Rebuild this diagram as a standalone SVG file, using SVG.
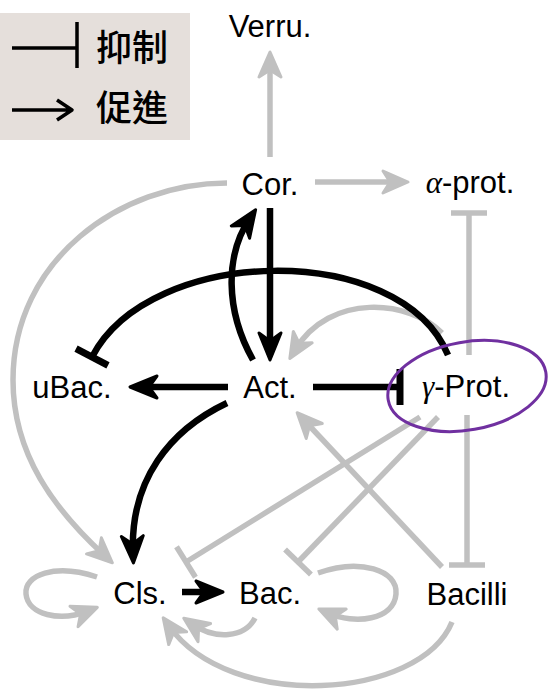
<svg xmlns="http://www.w3.org/2000/svg" width="549" height="691" viewBox="0 0 549 691">
<style>
.g{fill:none;stroke:#c0c0c0;stroke-width:5.5}
.b{fill:none;stroke:#000;stroke-width:6.5}
.t{font-family:"Liberation Sans",Arial,sans-serif;font-size:31px;fill:#000;text-anchor:middle}
.gr{font-family:"Liberation Serif","DejaVu Serif",serif;font-style:italic}
.cjk{font-family:"Noto Sans CJK TC","Noto Sans CJK SC",sans-serif;font-size:36px;font-weight:500;fill:#000}
</style>
<defs>
<marker id="ag" viewBox="-30 -30 60 60" markerWidth="60" markerHeight="60" refX="0" refY="0" orient="auto" markerUnits="userSpaceOnUse">
<path d="M10,0 L-15,-11 L-8,0 L-15,11 Z" fill="#c0c0c0" stroke="#c0c0c0" stroke-width="3" stroke-linejoin="round"/>
</marker>
<marker id="ab" viewBox="-30 -30 60 60" markerWidth="60" markerHeight="60" refX="0" refY="0" orient="auto" markerUnits="userSpaceOnUse">
<path d="M10,0 L-17,-11 L-9,0 L-17,11 Z" fill="#000" stroke="#000" stroke-width="3" stroke-linejoin="round"/>
</marker>
<marker id="tg" viewBox="-30 -30 60 60" markerWidth="60" markerHeight="60" refX="0" refY="0" orient="auto" markerUnits="userSpaceOnUse">
<path d="M0,-18 L0,18" stroke="#c0c0c0" stroke-width="5.5"/>
</marker>
<marker id="tb" viewBox="-30 -30 60 60" markerWidth="60" markerHeight="60" refX="0" refY="0" orient="auto" markerUnits="userSpaceOnUse">
<path d="M0,-18 L0,18" stroke="#000" stroke-width="7"/>
</marker>
</defs>

<g id="legend">
<rect x="0" y="13" width="190" height="127" fill="#e5dfdb"/>
<path d="M12,48 L77,48 M77,22 L77,68" fill="none" stroke="#000" stroke-width="3.5"/>
<path d="M12,110 L71,110 M57,100 L72,110 L57,120" fill="none" stroke="#000" stroke-width="3.5" stroke-linejoin="round"/>
<text class="cjk" x="96" y="61">抑制</text>
<text class="cjk" x="96" y="121">促進</text>
</g>

<g id="connectors">
<path class="g" d="M270,157 L270,62" marker-end="url(#ag)"/>
<path class="g" d="M315,182 L398,182" marker-end="url(#ag)"/>
<path class="g" d="M442,567 L304,420" marker-end="url(#ag)"/>
<path class="g" d="M442,333 C410,300 330,292 295,350" marker-end="url(#ag)"/>
<path class="g" d="M227,183 C120,183 13,260 13,380 C13,455 55,510 105,556" marker-end="url(#ag)"/>
<path class="g" d="M97,577 C55,563 24,575 26,594 C28,615 60,622 88,611" marker-end="url(#ag)"/>
<path class="g" d="M318,573 C360,558 398,570 396,594 C394,620 355,625 328,613" marker-end="url(#ag)"/>
<path class="g" d="M255,618 C245,638 215,640 192,624" marker-end="url(#ag)"/>
<path class="g" d="M452,622 C420,700 230,712 169,626" marker-end="url(#ag)"/>
<path class="g" d="M469,355 L469,213" marker-end="url(#tg)"/>
<path class="g" d="M467,415 L467,565" marker-end="url(#tg)"/>
<path class="g" d="M420,417 L186,562" marker-end="url(#tg)"/>
<path class="g" d="M438,417 L298,562" marker-end="url(#tg)"/>
<path class="b" d="M270,208 L270,350" marker-end="url(#ab)"/>
<path class="b" d="M253,360 C225,310 225,255 250,218" marker-end="url(#ab)"/>
<path class="b" d="M228,387 L140,387" marker-end="url(#ab)"/>
<path class="b" d="M227,403 C170,430 130,480 133,553" marker-end="url(#ab)"/>
<path class="b" d="M182,592 L213,592" stroke-width="8" marker-end="url(#ab)"/>
<path class="b" d="M313,387 L400,387" marker-end="url(#tb)"/>
<path class="b" d="M448,355 C400,240 150,245 92,357" marker-end="url(#tb)"/>
</g>

<g id="n-verru"><text class="t" x="270" y="37">Verru.</text></g>
<g id="n-cor"><text class="t" x="270" y="195">Cor.</text></g>
<g id="n-alpha"><text class="t" x="470" y="193"><tspan class="gr">α</tspan>-prot.</text></g>
<g id="n-ubac"><text class="t" x="72" y="398">uBac.</text></g>
<g id="n-act"><text class="t" x="270" y="398">Act.</text></g>
<g id="n-gamma">
<ellipse cx="467" cy="386" rx="80" ry="44" transform="rotate(-10 467 386)" fill="none" stroke="#7030a0" stroke-width="3"/>
<text class="t" x="466" y="397"><tspan class="gr">γ</tspan>-Prot.</text>
</g>
<g id="n-cls"><text class="t" x="140" y="604">Cls.</text></g>
<g id="n-bac"><text class="t" x="270" y="604">Bac.</text></g>
<g id="n-bacilli"><text class="t" x="467" y="605">Bacilli</text></g>
</svg>
